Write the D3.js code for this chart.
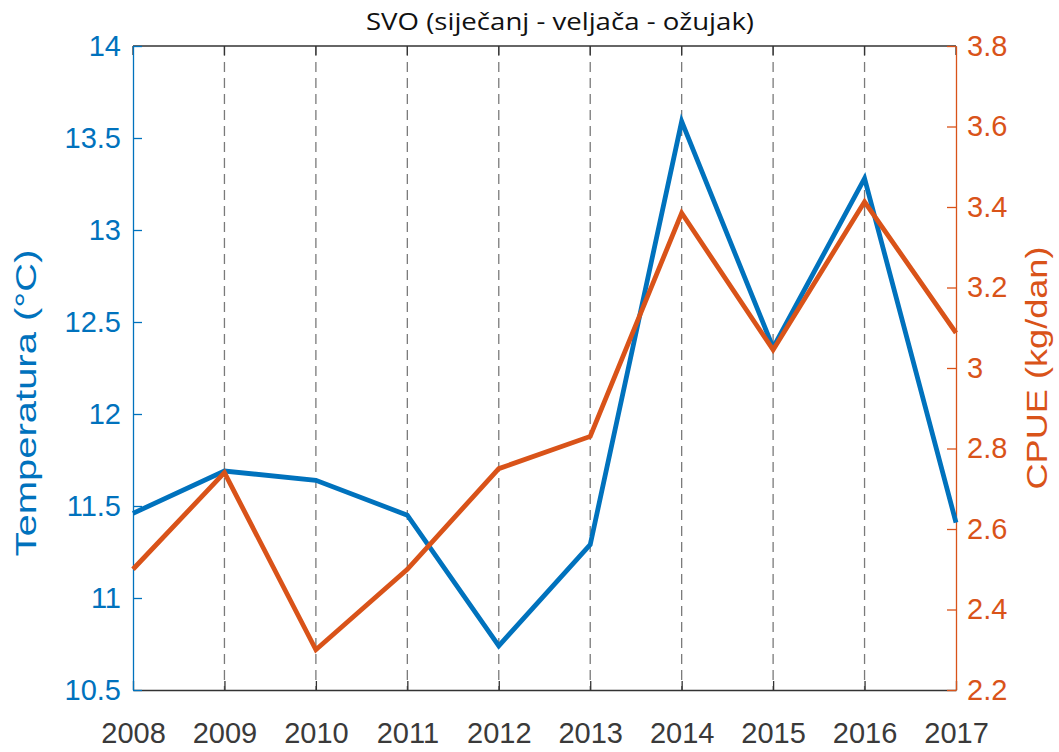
<!DOCTYPE html>
<html>
<head>
<meta charset="utf-8">
<script src="https://cdn.jsdelivr.net/npm/d3@7"></script>
<style>
  body { margin: 0; background: #fff; }
  svg { display: block; }
</style>
</head>
<body>
<script>
// data
const years = [2008, 2009, 2010, 2011, 2012, 2013, 2014, 2015, 2016, 2017];
const temperature = [11.46, 11.69, 11.64, 11.45, 10.74, 11.29, 13.59, 12.36, 13.28, 11.41];
const cpue = [2.50, 2.74, 2.30, 2.50, 2.75, 2.83, 3.385, 3.045, 3.413, 3.087];
const tempTicks = [10.5, 11, 11.5, 12, 12.5, 13, 13.5, 14];
const cpueTicks = [2.2, 2.4, 2.6, 2.8, 3, 3.2, 3.4, 3.6, 3.8];

const blue = "#0072BD", orange = "#D95319";
const W = 1059, H = 752;
const margin = {top: 46, right: 103, bottom: 62, left: 133};
const innerW = W - margin.left - margin.right,
      innerH = H - margin.top - margin.bottom;

const svg = d3.select("body").append("svg")
  .attr("width", W)
  .attr("height", H);

const g = svg.append("g")
  .attr("transform", "translate(" + margin.left + "," + margin.top + ")");

//scales
const x = d3.scaleLinear().domain([2008, 2017]).range([0, innerW]);
const yT = d3.scaleLinear().domain([10.5, 14]).range([innerH, 0]);
const yC = d3.scaleLinear().domain([2.2, 3.8]).range([innerH, 0]);

//dashed year lines
g.append("g")
  .selectAll("line")
  .data(years.slice(1, -1))
  .enter()
  .append("line")
    .attr("x1", d => x(d)).attr("x2", d => x(d))
    .attr("y1", 0).attr("y2", innerH)
    .attr("stroke", "#7a7a7a")
    .attr("stroke-width", 1.3)
    .attr("stroke-dasharray", "10,6");

//top border
g.append("line")
  .attr("x1", 0).attr("x2", innerW)
  .attr("y1", 0).attr("y2", 0)
  .attr("stroke", "#333").attr("stroke-width", 1.3);

//top ticks
g.append("g")
  .selectAll("line")
  .data(years)
  .enter()
  .append("line")
    .attr("x1", d => x(d)).attr("x2", d => x(d))
    .attr("y1", 0).attr("y2", 9)
    .attr("stroke", "#333").attr("stroke-width", 1.3);

//x axis
const xAxis = g.append("g")
  .attr("transform", "translate(0," + innerH + ")")
  .call(d3.axisBottom(x).tickValues(years).tickFormat(d3.format("d"))
    .tickSizeInner(-9).tickSizeOuter(0).tickPadding(32));
xAxis.select(".domain").attr("stroke", "#333").attr("stroke-width", 1.3);
xAxis.selectAll(".tick line").attr("stroke", "#333").attr("stroke-width", 1.3);
xAxis.selectAll("text")
  .attr("fill", "#3a3a3a")
  .attr("font-family", "'Liberation Sans', Arial, sans-serif")
  .attr("font-size", "29px");

//left axis
const yAxisL = g.append("g")
  .call(d3.axisLeft(yT).tickValues(tempTicks).tickFormat(d => String(d))
    .tickSizeInner(-9).tickSizeOuter(0).tickPadding(12));
yAxisL.select(".domain").attr("stroke", blue).attr("stroke-width", 1.3);
yAxisL.selectAll(".tick line").attr("stroke", blue).attr("stroke-width", 1.3);
yAxisL.selectAll("text")
  .attr("fill", blue)
  .attr("font-family", "'Liberation Sans', Arial, sans-serif")
  .attr("font-size", "29px");

//right axis
const yAxisR = g.append("g")
  .attr("transform", "translate(" + innerW + ",0)")
  .call(d3.axisRight(yC).tickValues(cpueTicks).tickFormat(d => String(d))
    .tickSizeInner(-9).tickSizeOuter(0).tickPadding(11));
yAxisR.select(".domain").attr("stroke", orange).attr("stroke-width", 1.3);
yAxisR.selectAll(".tick line").attr("stroke", orange).attr("stroke-width", 1.3);
yAxisR.selectAll("text")
  .attr("fill", orange)
  .attr("font-family", "'Liberation Sans', Arial, sans-serif")
  .attr("font-size", "29px");

//lines
const lineT = d3.line().x((d, i) => x(years[i])).y(d => yT(d));
const lineC = d3.line().x((d, i) => x(years[i])).y(d => yC(d));

g.append("path")
  .datum(temperature)
  .attr("d", lineT)
  .attr("fill", "none")
  .attr("stroke", blue)
  .attr("stroke-width", 4.8)
  .attr("stroke-linejoin", "miter");

g.append("path")
  .datum(cpue)
  .attr("d", lineC)
  .attr("fill", "none")
  .attr("stroke", orange)
  .attr("stroke-width", 4.8)
  .attr("stroke-linejoin", "miter");

//title
svg.append("text")
  .attr("x", 560).attr("y", 30)
  .attr("text-anchor", "middle")
  .attr("font-family", "'Open Sans', 'Noto Sans', sans-serif")
  .attr("font-size", "23px")
  .attr("fill", "#111")
  .attr("textLength", 388)
  .attr("lengthAdjust", "spacingAndGlyphs")
  .text("SVO (siječanj - veljača - ožujak)");

//y labels
svg.append("text")
  .attr("transform", "translate(36,403) rotate(-90)")
  .attr("text-anchor", "middle")
  .attr("font-family", "'Liberation Sans', Arial, sans-serif")
  .attr("font-size", "30px")
  .attr("fill", blue)
  .attr("textLength", 307)
  .attr("lengthAdjust", "spacingAndGlyphs")
  .text("Temperatura (°C)");

svg.append("text")
  .attr("transform", "translate(1047,368) rotate(-90)")
  .attr("text-anchor", "middle")
  .attr("font-family", "'Liberation Sans', Arial, sans-serif")
  .attr("font-size", "30px")
  .attr("fill", orange)
  .attr("textLength", 243)
  .attr("lengthAdjust", "spacingAndGlyphs")
  .text("CPUE (kg/dan)");
</script>
</body>
</html>
